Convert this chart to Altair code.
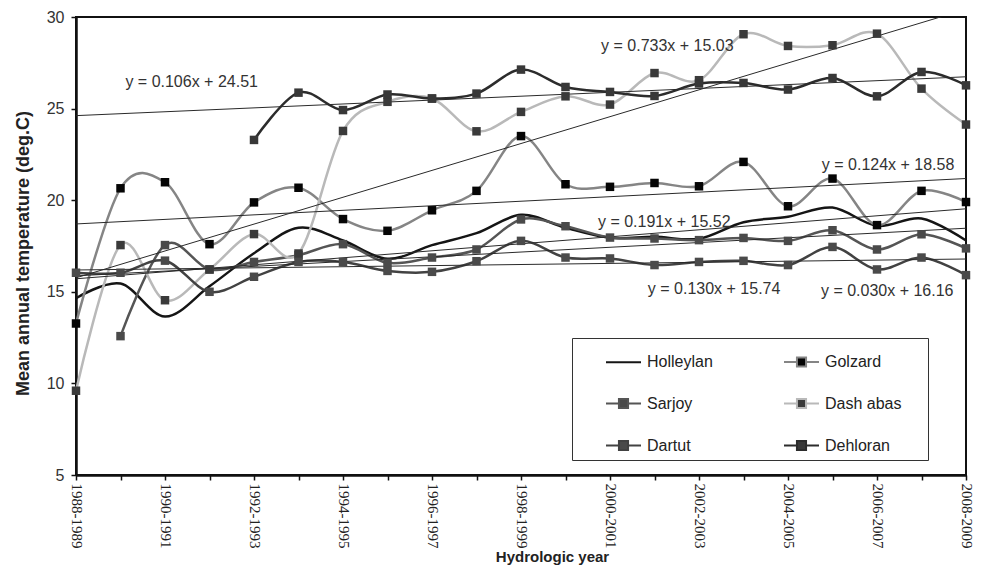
import altair as alt
import pandas as pd

years = ["1988-1989", "1989-1990", "1990-1991", "1991-1992", "1992-1993", "1993-1994",
         "1994-1995", "1995-1996", "1996-1997", "1997-1998", "1998-1999", "1999-2000",
         "2000-2001", "2001-2002", "2002-2003", "2003-2004", "2004-2005", "2005-2006",
         "2006-2007", "2007-2008", "2008-2009"]

stations = ["Holleylan", "Golzard", "Sarjoy", "Dash abas", "Dartut", "Dehloran"]

holleylan = [14.65, 15.45, 13.65, 15.3, 17.1, 18.5, 17.8, 16.8, 17.55, 18.2, 19.2,
             18.5, 17.95, 18.0, 17.9, 18.8, 19.1, 19.6, 18.6, 19.0, 17.8]
golzard = [13.27, 20.65, 20.98, 17.6, 19.88, 20.68, 18.97, 18.33, 19.45, 20.51, 23.5,
           20.87, 20.73, 20.94, 20.76, 22.09, 19.67, 21.18, 18.64, 20.51, 19.9]
sarjoy = [None, 12.58, 17.55, 16.22, 16.63, 17.0, 17.6, 16.58, 16.87, 17.31, 18.95,
          18.58, 17.96, 17.91, 17.82, 17.94, 17.78, 18.36, 17.31, 18.14, 17.37]
dash_abas = [9.6, 17.55, 14.54, 16.22, 18.15, 17.09, 23.78, 25.37, 25.55, 23.76, 24.82,
             25.67, 25.22, 26.94, 26.55, 29.06, 28.42, 28.46, 29.09, 26.09, 24.13]
dartut = [16.04, 16.04, 16.7, 15.0, 15.82, 16.63, 16.63, 16.14, 16.09, 16.67, 17.78,
          16.87, 16.82, 16.46, 16.63, 16.69, 16.46, 17.45, 16.22, 16.87, 15.91]
dehloran = [None, None, None, None, 23.29, 25.87, 24.92, 25.77, 25.55, 25.82, 27.13,
            26.18, 25.91, 25.69, 26.37, 26.4, 26.04, 26.67, 25.67, 27.0, 26.27]

series = [holleylan, golzard, sarjoy, dash_abas, dartut, dehloran]

# linear trend equations (x = 1..21)
slopes = [0.191, 0.124, 0.130, 0.733, 0.030, 0.106]
intercepts = [15.52, 18.58, 15.74, 15.03, 16.16, 24.51]
# where each equation label sits (x index, temperature)
eq_pos_x = [11.73, 16.76, 12.85, 11.8, 16.74, 1.11]
eq_pos_y = [18.82, 21.9, 15.18, 28.4, 15.05, 26.44]

line_colors = ["#151515", "#858585", "#555555", "#b9b9b9", "#424242", "#2c2c2c"]
marker_colors = ["#151515", "#050505", "#4a4a4a", "#3a3a3a", "#4a4a4a", "#383838"]

rows = []
for s, vals in zip(stations, series):
    for i, v in enumerate(vals):
        if v is not None:
            rows.append({"station": s, "idx": i, "temp": v})
df = pd.DataFrame(rows)
df_pts = df[df["station"] != "Holleylan"]

trend_rows = []
for s, a, b in zip(stations, slopes, intercepts):
    for i in (0, len(years) - 1):
        trend_rows.append({"station": s, "idx": i, "temp": a * (i + 1) + b})
df_trend = pd.DataFrame(trend_rows)

df_eq = pd.DataFrame({
    "idx": eq_pos_x,
    "temp": eq_pos_y,
    "label": [f"y = {a:.3f}x + {b:.2f}" for a, b in zip(slopes, intercepts)],
})

labels_js = "[" + ",".join(f"'{y}'" for y in years) + "]"
label_expr = f"datum.value % 2 == 0 ? {labels_js}[datum.value] : ''"

x_scale = alt.Scale(domain=[0, len(years) - 1], nice=False, zero=False)
y_scale = alt.Scale(domain=[5, 30], nice=False, zero=False)

x_axis = alt.Axis(values=list(range(len(years))), labelExpr=label_expr, labelAngle=90,
                  title="Hydrologic year", grid=False, labelFontSize=15,
                  labelFont="Liberation Serif", labelColor="#222", labelPadding=3,
                  tickSize=5, titleFont="Liberation Sans", titleFontSize=15,
                  titleFontWeight="bold", titlePadding=2, titleColor="#222",
                  labelFlush=False, titleX=476)
y_axis = alt.Axis(values=[5, 10, 15, 20, 25, 30], title="Mean annual temperature (deg.C)",
                  grid=False, labelFontSize=16, labelFont="Liberation Sans",
                  labelColor="#333", tickSize=5, labelPadding=7,
                  titleFont="Liberation Sans", titleFontSize=18, titleFontWeight="bold",
                  titleColor="#222", titleX=-53, titleY=236, titleBaseline="middle")

sym_path = "M-1,0H-0.26M0.26,0H1M-0.26,-0.26H0.26V0.26H-0.26Z"
legend = alt.Legend(
    orient="none", legendX=496, legendY=321, columns=2, direction="horizontal",
    padding=5, rowPadding=14, columnPadding=42, strokeColor="#333", fillColor="white",
    symbolSize=1225, symbolOffset=28, labelOffset=5,
    labelFont="Liberation Sans", labelFontSize=16, labelColor="#222",
    symbolStrokeWidth=2, symbolOpacity=1,
    title=" ", titleOrient="right", titlePadding=22, titleFontSize=12,
    symbolType={"expr": f"datum.value === 'Holleylan' ? 'M-1,0H1' : '{sym_path}'"},
)

lines = alt.Chart(df).mark_line(interpolate="cardinal", tension=0, strokeWidth=2.5).encode(
    x=alt.X("idx:Q", scale=x_scale, axis=x_axis),
    y=alt.Y("temp:Q", scale=y_scale, axis=y_axis),
    stroke=alt.Stroke("station:N", scale=alt.Scale(domain=stations, range=line_colors),
                      legend=legend),
)

trends = alt.Chart(df_trend).mark_line(color="#2a2a2a", strokeWidth=1, clip=True).encode(
    x=alt.X("idx:Q", scale=x_scale),
    y=alt.Y("temp:Q", scale=y_scale),
    detail="station:N",
)

points = alt.Chart(df_pts).mark_point(shape="square", filled=True, size=72, opacity=1).encode(
    x=alt.X("idx:Q", scale=x_scale),
    y=alt.Y("temp:Q", scale=y_scale),
    fill=alt.Fill("station:N", scale=alt.Scale(domain=stations, range=marker_colors),
                  legend=legend),
)

eqs = alt.Chart(df_eq).mark_text(align="left", baseline="middle", fontSize=16,
                                 font="Liberation Sans", color="#333").encode(
    x=alt.X("idx:Q", scale=x_scale),
    y=alt.Y("temp:Q", scale=y_scale),
    text="label:N",
)

chart = alt.layer(lines, trends, points, eqs).properties(
    width=890, height=458,
    autosize=alt.AutoSizeParams(type="none"),
    padding={"left": 68, "top": 9, "right": 8, "bottom": 93},
    background="white",
).configure_view(stroke="#111", strokeWidth=2).configure_axis(
    domainColor="#111", domainWidth=2.5, tickColor="#111", tickWidth=1.5
)

chart.save("out.html", embed_options={"renderer": "svg", "actions": False})
